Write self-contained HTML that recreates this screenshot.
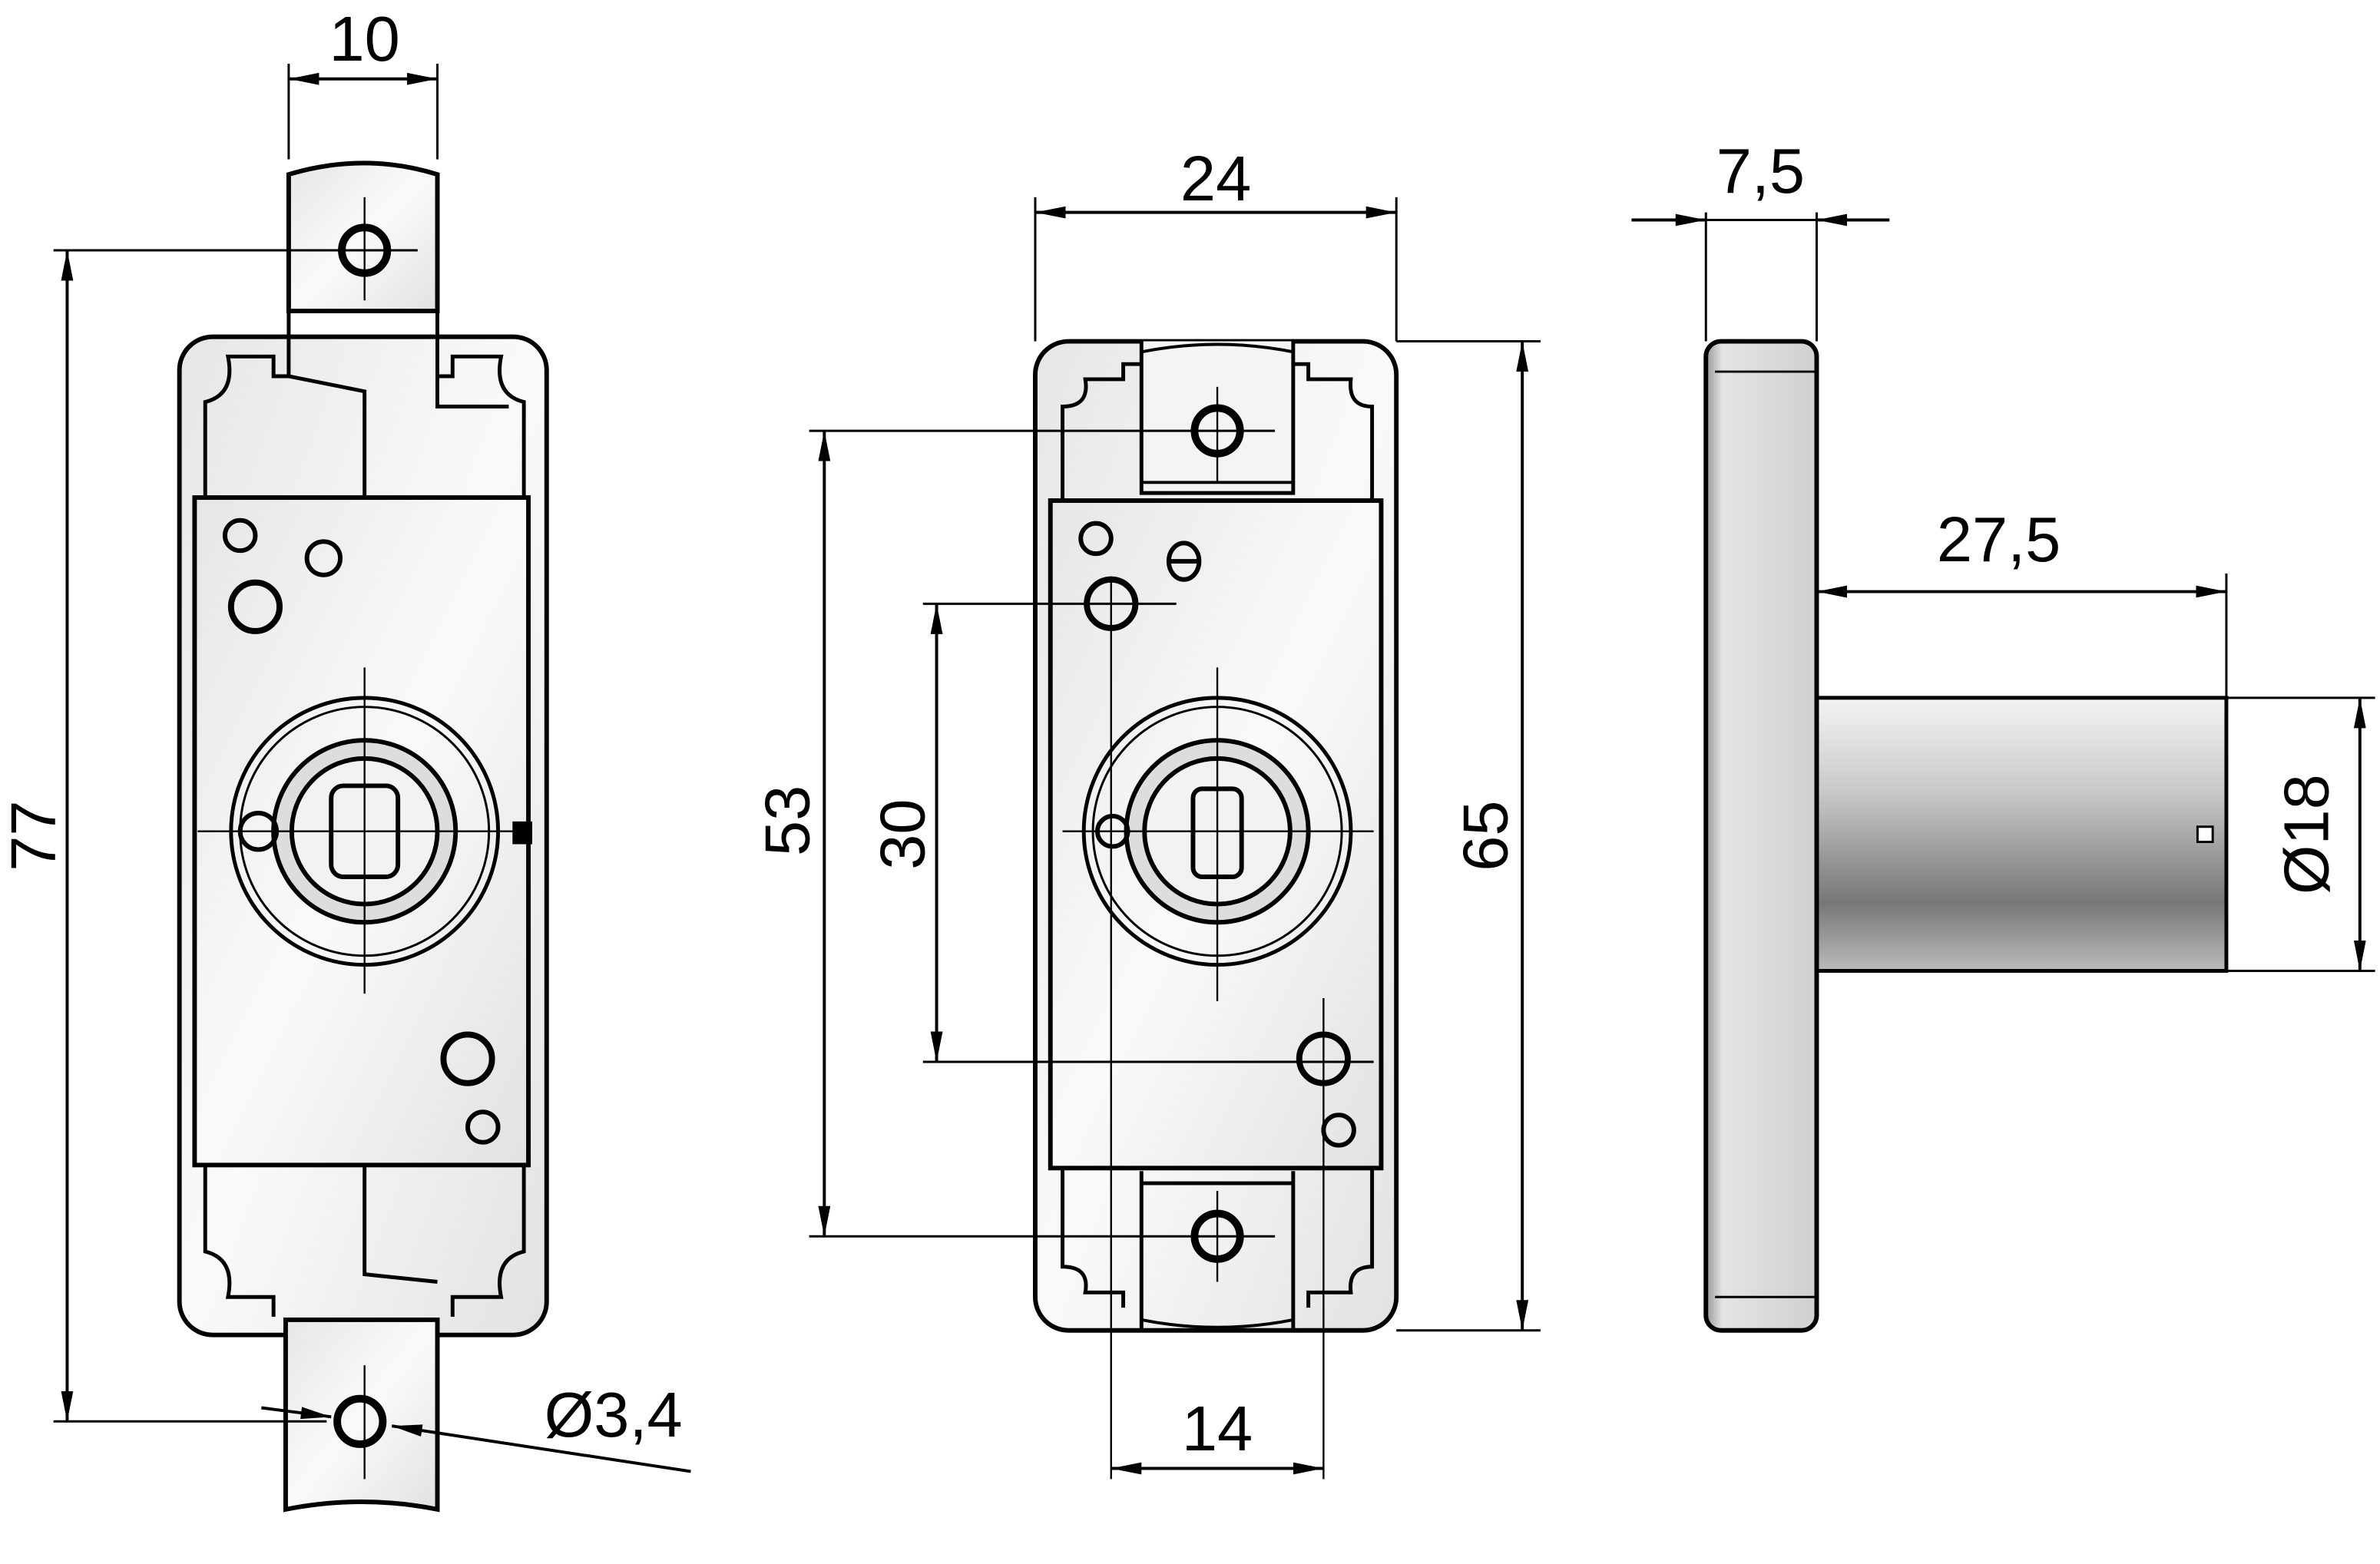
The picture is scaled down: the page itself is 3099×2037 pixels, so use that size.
<!DOCTYPE html>
<html><head><meta charset="utf-8"><style>html,body{margin:0;padding:0;background:#fff}svg{display:block}</style></head>
<body>
<svg width="3099" height="2037" viewBox="0 0 1568 1031" xmlns="http://www.w3.org/2000/svg" font-family="Liberation Sans, sans-serif">
<defs>
<linearGradient id="pl" x1="0" y1="0" x2="1" y2="1"><stop offset="0" stop-color="#e6e6e6"/><stop offset="0.5" stop-color="#fafafa"/><stop offset="1" stop-color="#e2e2e2"/></linearGradient>
<linearGradient id="sh" x1="0" y1="0" x2="0" y2="1"><stop offset="0" stop-color="#f4f4f4"/><stop offset="0.35" stop-color="#c8c8c8"/><stop offset="0.75" stop-color="#777"/><stop offset="1" stop-color="#bbb"/></linearGradient>
<linearGradient id="fl" x1="0" y1="0" x2="1" y2="0"><stop offset="0" stop-color="#999"/><stop offset="0.15" stop-color="#e4e4e4"/><stop offset="1" stop-color="#d0d0d0"/></linearGradient>
<marker id="a" viewBox="0 0 20 8" refX="20" refY="4" markerWidth="20" markerHeight="8" markerUnits="userSpaceOnUse" orient="auto-start-reverse"><path d="M0,0L20,4L0,8z" fill="#000"/></marker>
</defs>
<g stroke="#000" fill="none">
<!-- LEFT VIEW -->
<path d="M190,205 L190,115 Q240,100 288,115 L288,205 Z" fill="url(#pl)" stroke-width="3"/>
<rect x="118" y="222" width="242" height="658" rx="22" fill="url(#pl)" stroke-width="3"/>
<path d="M190,205 L190,248 L180,248 L180,235 L150,235 Q155,260 135,265 L135,328 M288,205 L288,248 L298,248 L298,235 L330,235 Q325,260 345,265 L345,328 M190,248 L240,258 L240,328 M288,248 L288,268 L335,268" stroke-width="2.5"/>
<path d="M135,768 L135,825 Q155,830 150,855 L180,855 L180,868 M345,768 L345,825 Q325,830 330,855 L298,855 L298,868 M240,768 L240,840 L288,845" stroke-width="2.5"/>
<rect x="128" y="328" width="220" height="440" fill="url(#pl)" stroke-width="3"/>
<path d="M188,870 L188,995 Q238,985 288,995 L288,870 Z" fill="url(#pl)" stroke-width="3"/>
<circle cx="240" cy="165" r="15" stroke-width="5"/>
<circle cx="237" cy="937" r="15" stroke-width="5"/>
<circle cx="240" cy="548" r="88" stroke-width="2.5"/>
<circle cx="240" cy="548" r="82" stroke-width="1.5"/>
<circle cx="240" cy="548" r="60" stroke-width="3" fill="#ddd"/>
<circle cx="240" cy="548" r="48" stroke-width="3" fill="#f2f2f2"/>
<rect x="218" y="518" width="44" height="60" rx="8" stroke-width="3"/>
<circle cx="170" cy="548" r="12" stroke-width="3"/>
<rect x="338" y="542" width="12" height="14" fill="#000"/>
<circle cx="158" cy="353" r="10" stroke-width="3"/>
<circle cx="213" cy="368" r="11" stroke-width="3"/>
<circle cx="168" cy="400" r="16" stroke-width="4"/>
<circle cx="308" cy="698" r="16" stroke-width="4"/>
<circle cx="318" cy="743" r="10" stroke-width="3"/>
<path d="M130,548 H350 M240,440 V655 M240,130 V198 M240,900 V975" stroke-width="1.2"/>
<!-- dims left -->
<path d="M190,42 V105 M288,42 V105" stroke-width="1.5"/>
<line x1="190" y1="52" x2="288" y2="52" stroke-width="2" marker-start="url(#a)" marker-end="url(#a)"/>
<path d="M35,165 H275 M35,937 H215" stroke-width="1.5"/>
<line x1="44" y1="165" x2="44" y2="937" stroke-width="2" marker-start="url(#a)" marker-end="url(#a)"/>
<line x1="172" y1="928" x2="218" y2="934" stroke-width="2" marker-end="url(#a)"/>
<line x1="455" y1="970" x2="258" y2="940" stroke-width="2" marker-end="url(#a)"/>
<!-- MIDDLE VIEW -->
<rect x="682" y="225" width="238" height="652" rx="22" fill="url(#pl)" stroke-width="3"/>
<path d="M752,225 L752,325 L852,325 L852,225" fill="#f4f4f4" stroke-width="2.5"/>
<path d="M752,232 Q802,222 852,232" stroke-width="2"/>
<path d="M752,318 H852" stroke-width="2"/>
<path d="M752,240 L740,240 L740,250 L715,250 Q718,268 700,268 L700,330 M852,240 L862,240 L862,250 L890,250 Q888,268 904,268 L904,330" stroke-width="2.5"/>
<rect x="692" y="330" width="218" height="440" fill="url(#pl)" stroke-width="3"/>
<path d="M752,772 L752,877 M852,772 L852,877 M752,780 H852" fill="#f4f4f4" stroke-width="2.5"/>
<path d="M752,870 Q802,880 852,870" stroke-width="2"/>
<path d="M700,770 L700,835 Q718,835 715,852 L740,852 L740,862 M904,770 L904,835 Q888,835 890,852 L862,852 L862,862" stroke-width="2.5"/>
<circle cx="802" cy="284" r="15" stroke-width="5"/>
<circle cx="802" cy="815" r="15" stroke-width="5"/>
<circle cx="802" cy="548" r="88" stroke-width="2.5"/>
<circle cx="802" cy="548" r="82" stroke-width="1.5"/>
<circle cx="802" cy="548" r="60" stroke-width="3" fill="#ddd"/>
<circle cx="802" cy="548" r="48" stroke-width="3" fill="#f2f2f2"/>
<rect x="786" y="520" width="32" height="58" rx="6" stroke-width="3"/>
<circle cx="733" cy="548" r="10" stroke-width="3"/>
<circle cx="722" cy="355" r="10" stroke-width="3"/>
<circle cx="732" cy="398" r="16" stroke-width="4"/>
<ellipse cx="780" cy="370" rx="10" ry="12" stroke-width="3"/>
<line x1="770" y1="370" x2="790" y2="370" stroke-width="3"/>
<circle cx="872" cy="698" r="16" stroke-width="4"/>
<circle cx="882" cy="745" r="10" stroke-width="3"/>
<path d="M700,548 H905 M802,440 V660 M802,255 V318 M802,785 V845 M732,380 V975 M872,658 V975" stroke-width="1.2"/>
<!-- dims middle -->
<path d="M682,130 V225 M920,130 V225 M920,225 H1015 M920,877 H1015 M533,284 H840 M608,398 H775 M608,700 H905 M533,815 H840" stroke-width="1.5"/>
<line x1="682" y1="140" x2="920" y2="140" stroke-width="2" marker-start="url(#a)" marker-end="url(#a)"/>
<line x1="1003" y1="225" x2="1003" y2="877" stroke-width="2" marker-start="url(#a)" marker-end="url(#a)"/>
<line x1="543" y1="284" x2="543" y2="815" stroke-width="2" marker-start="url(#a)" marker-end="url(#a)"/>
<line x1="617" y1="398" x2="617" y2="700" stroke-width="2" marker-start="url(#a)" marker-end="url(#a)"/>
<line x1="732" y1="968" x2="872" y2="968" stroke-width="2" marker-start="url(#a)" marker-end="url(#a)"/>
<!-- RIGHT VIEW -->
<rect x="1197" y="460" width="270" height="180" fill="url(#sh)" stroke-width="2.5"/>
<rect x="1448" y="545" width="10" height="10" fill="#fff" stroke-width="1.5"/>
<rect x="1124" y="225" width="73" height="652" rx="10" fill="url(#fl)" stroke-width="3"/>
<path d="M1130,245 H1197 M1130,855 H1197" stroke-width="1.5"/>
<path d="M1124,140 V225 M1197,140 V225 M1467,378 V460 M1467,460 H1565 M1467,640 H1565" stroke-width="1.5"/>
<line x1="1075" y1="145" x2="1124" y2="145" stroke-width="2" marker-end="url(#a)"/>
<line x1="1245" y1="145" x2="1197" y2="145" stroke-width="2" marker-end="url(#a)"/>
<line x1="1124" y1="145" x2="1197" y2="145" stroke-width="1.5"/>
<line x1="1197" y1="390" x2="1467" y2="390" stroke-width="2" marker-start="url(#a)" marker-end="url(#a)"/>
<line x1="1555" y1="460" x2="1555" y2="640" stroke-width="2" marker-start="url(#a)" marker-end="url(#a)"/>
</g>
<g font-size="42" fill="#000" text-anchor="middle">
<text x="240" y="40">10</text>
<text transform="translate(36,551) rotate(-90)">77</text>
<text x="404" y="947">Ø3,4</text>
<text x="801" y="132">24</text>
<text transform="translate(533,541) rotate(-90)">53</text>
<text transform="translate(609,550) rotate(-90)">30</text>
<text transform="translate(993,551) rotate(-90)">65</text>
<text x="802" y="956">14</text>
<text x="1160" y="127">7,5</text>
<text x="1317" y="370">27,5</text>
<text transform="translate(1534,550) rotate(-90)">Ø18</text>
</g>
</svg>
</body></html>
